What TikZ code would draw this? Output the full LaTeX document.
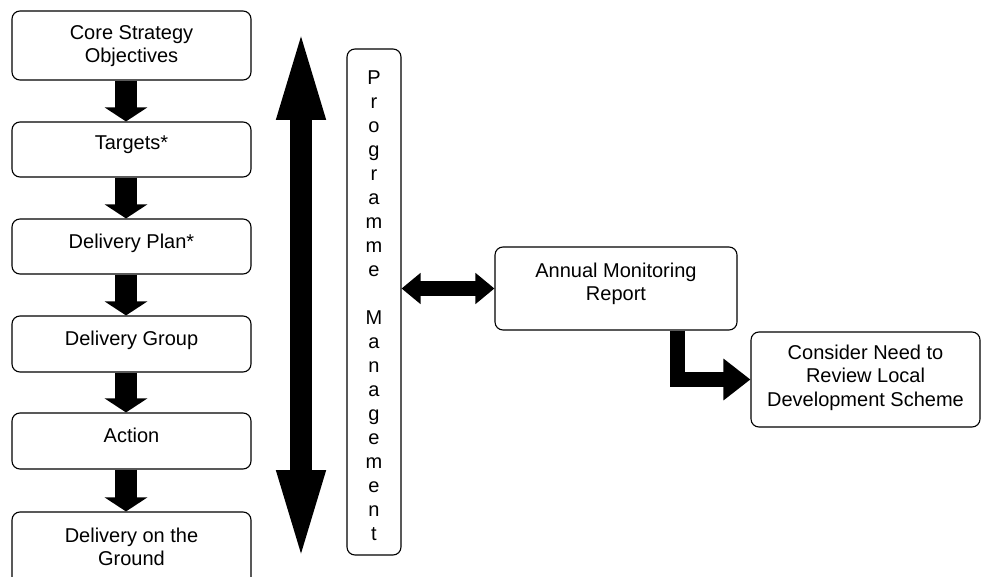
\documentclass[tikz,border=0pt]{standalone}
\usepackage{fontspec}
\setmainfont{Liberation Sans}
\usetikzlibrary{arrows.meta,calc}
\begin{document}
\begin{tikzpicture}[x=1pt,y=-1pt,
  box/.style={draw, line width=1.1pt, rounded corners=8pt, inner sep=0pt},
  txt/.style={font=\fontsize{20}{23.3}\selectfont, align=center, inner sep=0pt, anchor=base},
  blk/.style={line width=22pt, -{Triangle[width=42pt,length=14pt]}},
]
\useasboundingbox (0,0) rectangle (981,577);
\clip (0,0) rectangle (981,577);
\fill[white] (0,0) rectangle (981,577);

% left column boxes
\node[box, minimum width=239pt, minimum height=69pt] (b1) at (131.5,45.5) {};
\node[box, minimum width=239pt, minimum height=55pt] (b2) at (131.5,149.5) {};
\node[box, minimum width=239pt, minimum height=55pt] (b3) at (131.5,246.5) {};
\node[box, minimum width=239pt, minimum height=56pt] (b4) at (131.5,344) {};
\node[box, minimum width=239pt, minimum height=56pt] (b5) at (131.5,441) {};
\node[box, minimum width=239pt, minimum height=100pt] (b6) at (131.5,562) {};

% (base anchor = baseline of the last line)
\node[txt] (t1) at ($(b1.north)+(0,52.3)$) {Core Strategy\\Objectives};
\node[txt] (t2) at ($(b2.north)+(0,28)$) {Targets*};
\node[txt] (t3) at ($(b3.north)+(0,30)$) {Delivery Plan*};
\node[txt] (t4) at ($(b4.north)+(0,30)$) {Delivery Group};
\node[txt] (t5) at ($(b5.north)+(0,30)$) {Action};
\node[txt] (t6) at ($(b6.north)+(0,54)$) {Delivery on the\\Ground};

% down arrows
\draw[blk] ([xshift=-5.5pt]b1.south) -- ([xshift=-5.5pt]b2.north);
\draw[blk] ([xshift=-5.5pt]b2.south) -- ([xshift=-5.5pt]b3.north);
\draw[blk] ([xshift=-5.5pt]b3.south) -- ([xshift=-5.5pt]b4.north);
\draw[blk] ([xshift=-5.5pt]b4.south) -- ([xshift=-5.5pt]b5.north);
\draw[blk] ([xshift=-5.5pt]b5.south) -- ([xshift=-5.5pt]b6.north);

% vertical double arrow
\coordinate (vt) at (301,22);
\coordinate (vb) at (301,568);
\draw[line width=22pt, {Triangle[width=42pt,length=98pt]}-{Triangle[width=42pt,length=98pt]}] (vt) -- (vb);

% Programme Management
\node[box, minimum width=54pt, minimum height=506pt] (pm) at (374,302) {};
\node[txt, font=\fontsize{20}{24}\selectfont] (pmt) at ($(pm.north)+(0,492)$)
  {P\\r\\o\\g\\r\\a\\m\\m\\e\\~\\M\\a\\n\\a\\g\\e\\m\\e\\n\\t};

% Annual Monitoring Report
\node[box, minimum width=242pt, minimum height=83pt] (amr) at (616,288.5) {};
\node[txt] (amrt) at ($(amr.north)+(0,54.3)$) {Annual Monitoring\\Report};

% Consider
\node[box, minimum width=229pt, minimum height=95pt] (cons) at (865.5,379.5) {};
\node[txt] (const) at ($(cons.north)+(0,74.6)$) {Consider Need to\\Review Local\\Development Scheme};

% horizontal double arrow
\draw[line width=15pt, {Triangle[width=30pt,length=19pt]}-{Triangle[width=30pt,length=19pt]}] (pm.east |- amr.west) -- (amr.west);

% elbow arrow
\coordinate (e0) at ($(amr.south)+(61,0)$);
\draw[line width=15pt, line join=miter, -{Triangle[width=40pt,length=27pt]}] (e0) |- (cons.west);
\end{tikzpicture}
\end{document}
